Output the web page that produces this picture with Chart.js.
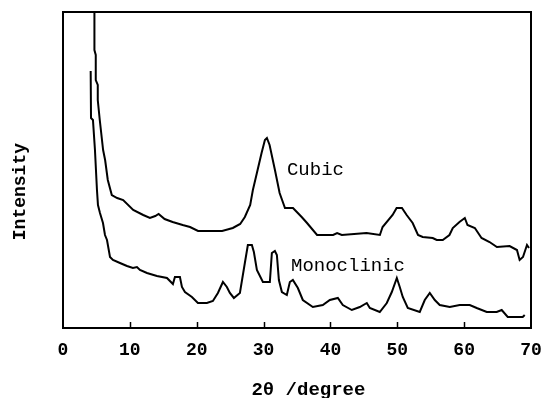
<!DOCTYPE html>
<html>
<head>
<meta charset="utf-8">
<script src="https://cdn.jsdelivr.net/npm/chart.js@4.4.1/dist/chart.umd.min.js"></script>
<style>
  html, body { margin: 0; padding: 0; background: #fff; }
  #wrap { width: 545px; height: 398px; }
</style>
</head>
<body>
<div id="wrap"><canvas id="myChart" width="545" height="398"></canvas></div>
<script>
// 2theta (degree) and intensity (arbitrary units)
const cubicX = [4.7, 4.7, 4.9, 4.9, 5.2, 5.2, 5.5, 6.0, 6.3, 6.7, 7.3, 8.1, 9.0, 10.5, 12.0, 13.0, 13.8, 14.3, 15.2, 16.4, 17.9, 19.0, 20.2, 23.8, 25.4, 26.5, 27.2, 28.0, 28.4, 29.0, 29.7, 30.2, 30.5, 30.9, 31.7, 32.4, 33.2, 34.4, 35.7, 36.5, 38.0, 40.4, 41.0, 41.7, 45.4, 47.4, 47.8, 49.3, 49.9, 50.7, 51.4, 52.3, 53.1, 53.8, 55.3, 55.9, 56.8, 57.8, 58.3, 59.3, 60.1, 60.5, 61.6, 62.6, 63.8, 64.9, 66.8, 67.9, 68.3, 68.8, 69.4, 69.7];
const cubicY = [360, 278, 273, 248, 243, 228, 208, 178, 168, 148, 133, 130, 128, 118, 113, 110, 112, 114, 109, 106, 103, 101, 97, 97, 100, 104, 111, 123, 138, 155, 175, 188, 190, 183, 158, 135, 120, 120, 111, 105, 93, 93, 95, 93, 95, 93, 101, 113, 120, 120, 113, 105, 93, 91, 90, 88, 88, 93, 100, 106, 110, 103, 100, 90, 86, 81, 82, 78, 68, 71, 83, 80];

const monoX = [4.14, 4.19, 4.48, 4.78, 5.08, 5.23, 5.53, 5.98, 6.28, 6.58, 7.03, 7.47, 8.52, 9.57, 10.46, 11.06, 11.51, 12.56, 14.05, 15.55, 16.44, 16.74, 17.49, 17.79, 18.24, 19.28, 20.18, 21.52, 22.42, 23.17, 23.92, 24.51, 24.96, 25.56, 26.46, 27.2, 27.65, 28.25, 28.55, 29.0, 29.9, 30.94, 31.24, 31.69, 31.99, 32.29, 32.74, 33.48, 33.93, 34.38, 35.13, 35.87, 37.37, 38.86, 39.91, 41.11, 41.85, 43.2, 44.39, 45.44, 45.89, 47.38, 48.43, 49.18, 49.93, 50.37, 50.82, 51.57, 53.36, 54.11, 54.86, 55.61, 56.35, 57.85, 59.34, 60.84, 61.88, 63.38, 64.87, 65.62, 66.52, 68.76, 69.06];
const monoY = [257, 210, 208, 178, 138, 123, 115, 105, 93, 88, 71, 68, 65, 62, 60, 61, 58, 55, 52, 50, 44, 51, 51, 41, 36, 31, 25, 25, 27, 35, 46, 41, 35, 30, 35, 65, 83, 83, 76, 58, 46, 46, 75, 77, 73, 48, 36, 33, 46, 48, 40, 28, 21, 23, 28, 30, 23, 18, 21, 25, 20, 16, 25, 36, 50, 41, 31, 20, 16, 28, 35, 28, 23, 21, 23, 23, 20, 16, 16, 18, 11, 11, 13];

const xTicks = [0, 10, 20, 30, 40, 50, 60, 70];
const seriesNames = ['Cubic', 'Monoclinic'];

const FONT = '"Liberation Mono", "Courier New", monospace';

function toPoints(xs, ys) {
    return xs.map((x, i) => ({ x: x, y: ys[i] }));
}

// frame, inward ticks and curve labels
const framePlugin = {
    id: 'frame',
    afterDraw(chart) {
        const ctx = chart.ctx;
        const a = chart.chartArea;
        const xs = chart.scales.x;
        const ys = chart.scales.y;
        ctx.save();
        ctx.strokeStyle = '#000';
        ctx.lineWidth = 2;
        ctx.strokeRect(a.left, a.top, a.right - a.left, a.bottom - a.top);
        ctx.lineWidth = 1.5;
        xTicks.slice(1, -1).forEach(t => {
            const px = Math.round(xs.getPixelForValue(t)) + 0.5;
            ctx.beginPath();
            ctx.moveTo(px, a.bottom);
            ctx.lineTo(px, a.bottom - 6);
            ctx.stroke();
        });
        ctx.fillStyle = '#000';
        ctx.font = '19px ' + FONT;
        ctx.textBaseline = 'middle';
        ctx.textAlign = 'left';
        ctx.fillText(seriesNames[0], xs.getPixelForValue(33.5), ys.getPixelForValue(158));
        ctx.fillText(seriesNames[1], xs.getPixelForValue(34.1), ys.getPixelForValue(62));
        ctx.restore();
    }
};

function createChart() {
    const ctx = document.getElementById('myChart').getContext('2d');

    const chart = new Chart(ctx, {
        type: 'line',
        data: {
            datasets: [
                {
                    label: seriesNames[0],
                    data: toPoints(cubicX, cubicY),
                    borderColor: '#000',
                    borderWidth: 2,
                    pointRadius: 0,
                    fill: false,
                    tension: 0
                },
                {
                    label: seriesNames[1],
                    data: toPoints(monoX, monoY),
                    borderColor: '#000',
                    borderWidth: 2,
                    pointRadius: 0,
                    fill: false,
                    tension: 0
                }
            ]
        },
        options: {
            responsive: false,
            animation: false,
            layout: {
                padding: { top: 12, right: 14, left: 0, bottom: 0 }
            },
            plugins: {
                legend: { display: false },
                tooltip: { enabled: false },
                title: { display: false }
            },
            scales: {
                x: {
                    type: 'linear',
                    min: 0,
                    max: 70,
                    afterBuildTicks: (scale) => {
                        scale.ticks = xTicks.map(v => ({ value: v }));
                    },
                    afterFit: (scale) => {
                        scale.height = 70;
                        scale.paddingLeft = 0;
                        scale.paddingRight = 0;
                    },
                    grid: { display: false, drawTicks: false },
                    border: { display: false },
                    ticks: {
                        color: '#000',
                        padding: 12,
                        maxRotation: 0,
                        autoSkip: false,
                        font: { family: FONT, size: 18, weight: 'bold' }
                    },
                    title: {
                        display: true,
                        text: '  2θ /degree',
                        color: '#000',
                        padding: { top: 23, bottom: -4 },
                        font: { family: FONT, size: 19, weight: 'bold' }
                    }
                },
                y: {
                    min: 0,
                    max: 316,
                    afterFit: (scale) => { scale.width = 63; },
                    grid: { display: false, drawTicks: false },
                    border: { display: false },
                    ticks: { display: false },
                    title: {
                        display: true,
                        text: 'Intensity    ',
                        color: '#000',
                        padding: { top: 10, bottom: 0 },
                        font: { family: FONT, size: 18, weight: 'bold' }
                    }
                }
            }
        },
        plugins: [framePlugin]
    });

    return chart;
}

createChart();
</script>
</body>
</html>
